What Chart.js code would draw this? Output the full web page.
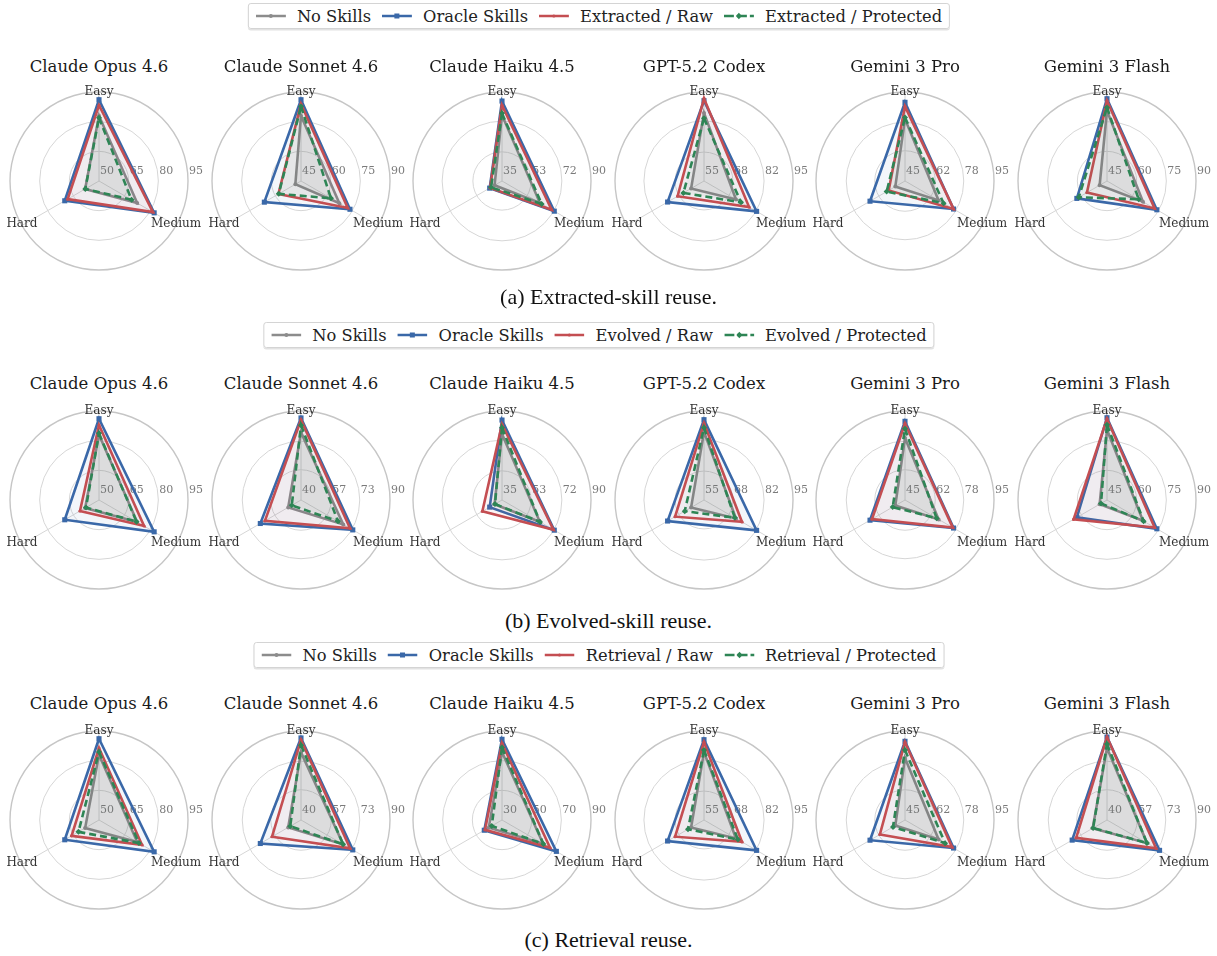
<!DOCTYPE html>
<html>
<head>
<meta charset="utf-8">
<script src="https://cdn.jsdelivr.net/npm/chart.js@4.4.1/dist/chart.umd.min.js"></script>
<style>
  body { margin: 0; background: #fff; }
  #page { position: relative; width: 1217px; height: 956px; overflow: hidden; font-family: "DejaVu Serif", serif; }
  .panel { position: absolute; }
  .title { position: absolute; width: 200px; text-align: center; font-size: 16.5px; line-height: 20px; color: #1a1a1a; white-space: nowrap; }
  .caption { position: absolute; left: 0; width: 1217px; text-align: center; font-family: "Liberation Serif", serif; font-size: 22px; line-height: 26px; color: #111; }
  .legend { position: absolute; left: 599px; transform: translateX(-50%); display: flex; align-items: center; height: 24px; padding: 0 7px; border: 1px solid #d4d4d4; border-radius: 3px; box-shadow: 0 1.5px 0 #e2e2e2; font-size: 16.3px; color: #222; white-space: nowrap; }
  .legend .item { display: flex; align-items: center; margin-right: 11px; }
  .legend .item:last-child { margin-right: 0; }
  .legend svg { margin-right: 11px; }
</style>
</head>
<body>
<div id="page"></div>
<script>
const categories = ["Easy", "Medium", "Hard"];
const models = ["Claude Opus 4.6", "Claude Sonnet 4.6", "Claude Haiku 4.5", "GPT-5.2 Codex", "Gemini 3 Pro", "Gemini 3 Flash"];
const captions = ["(a) Extracted-skill reuse.", "(b) Evolved-skill reuse.", "(c) Retrieval reuse."];
const legendLabels = [
    ["No Skills", "Oracle Skills", "Extracted / Raw", "Extracted / Protected"],
    ["No Skills", "Oracle Skills", "Evolved / Raw", "Evolved / Protected"],
    ["No Skills", "Oracle Skills", "Retrieval / Raw", "Retrieval / Protected"],
];

// [Easy, Medium, Hard] per model
const noSkills = [[83.0, 72.3, 58.1], [78.0, 67.4, 48.3], [75.8, 62.0, 40.3], [85.6, 71.6, 61.7], [79.8, 66.8, 51.3], [80.5, 66.0, 49.3]];
const oracleSkills = [[91.1, 82.2, 70.0], [86.1, 73.6, 66.4], [84.4, 72.3, 43.8], [91.1, 82.3, 73.9], [89.2, 76.5, 67.7], [86.6, 74.1, 62.6]];

const extractedRaw = [[88.3, 81.5, 68.3], [83.9, 72.3, 58.2], [81.8, 70.4, 43.5], [92.1, 78.4, 68.7], [86.9, 76.5, 55.6], [85.6, 72.8, 56.7]];
const extractedProtected = [[82.0, 69.0, 58.0], [82.7, 62.5, 58.0], [76.8, 63.3, 42.8], [83.2, 74.2, 65.7], [80.7, 70.0, 56.9], [82.2, 63.5, 61.5]];
const evolvedRaw = [[87.9, 76.3, 61.1], [85.0, 71.8, 63.4], [81.8, 71.7, 49.0], [89.5, 74.7, 70.0], [88.0, 76.0, 66.4], [86.1, 72.8, 64.5]];
const evolvedProtected = [[83.7, 71.9, 57.6], [82.0, 64.0, 46.0], [79.7, 62.1, 40.0], [87.5, 71.0, 65.0], [85.0, 65.5, 53.0], [83.1, 66.4, 48.5]];
const retrievalRaw = [[86.4, 75.1, 66.0], [85.0, 71.8, 58.8], [81.7, 67.4, 43.2], [90.0, 74.7, 70.0], [88.7, 75.5, 61.3], [86.6, 71.8, 60.0]];
const retrievalProtected = [[84.4, 73.3, 62.0], [82.0, 67.3, 47.0], [78.8, 62.2, 38.0], [86.5, 72.6, 63.3], [84.3, 71.0, 52.8], [82.7, 65.9, 49.0]];

const rawRows = [extractedRaw, evolvedRaw, retrievalRaw];
const protectedRows = [extractedProtected, evolvedProtected, retrievalProtected];

// radial tick labels per row, per model (first = centre, last = outer ring)
const radialTicks = [
    [[50, 65, 80, 95], [45, 60, 75, 90], [35, 53, 72, 90], [55, 68, 82, 95], [45, 62, 78, 95], [45, 60, 75, 90]],
    [[50, 65, 80, 95], [40, 57, 73, 90], [35, 53, 72, 90], [55, 68, 82, 95], [45, 62, 78, 95], [45, 60, 75, 90]],
    [[50, 65, 80, 95], [40, 57, 73, 90], [30, 50, 70, 90], [55, 68, 82, 95], [45, 62, 78, 95], [40, 57, 73, 90]],
];

const colors = ["#8c8c8c", "#3a68a8", "#c44e52", "#2e8555"];
const centersX = [99, 301, 502, 704, 905, 1107];
const centersY = [181, 500, 820];
const legendTop = [3, 322, 642];
const titleY = [67, 384, 704];
const captionY = [297, 621, 940];

const page = document.getElementById("page");

function fade(hex, a) {
    const n = parseInt(hex.slice(1), 16);
    return `rgba(${n >> 16},${(n >> 8) & 255},${n & 255},${a})`;
}

const panelLabels = {
    id: "panelLabels",
    beforeDatasetsDraw(chart) {
        const scale = chart.scales.r;
        const ctx = chart.ctx;
        ctx.save();
        ctx.font = "11px 'DejaVu Serif'";
        ctx.fillStyle = "#7a7a7a";
        ctx.textAlign = "center";
        ctx.textBaseline = "middle";
        scale.ticks.forEach((t) => {
            const d = scale.getDistanceFromCenterForValue(t.value);
            ctx.fillText(String(t.value), scale.xCenter + d + 8, scale.yCenter - 10);
        });
        ctx.restore();
    },
    afterDatasetsDraw(chart) {
        const scale = chart.scales.r;
        const ctx = chart.ctx;
        ctx.save();
        ctx.font = "12px 'DejaVu Serif'";
        ctx.fillStyle = "#333";
        ctx.textAlign = "center";
        ctx.textBaseline = "middle";
        chart.data.labels.forEach((label, i) => {
            const p = scale.getPointPosition(i, scale.drawingArea);
            ctx.fillText(label, p.x, i === 0 ? p.y : p.y - 2);
        });
        ctx.restore();
    },
};

function legendSample(idx) {
    const c = colors[idx];
    let line = `<line x1="0" y1="6" x2="30" y2="6" stroke="${c}" stroke-width="2.5"${idx === 3 ? ' stroke-dasharray="10 3"' : ""}/>`;
    let marker = "";
    if (idx === 0) marker = `<circle cx="15" cy="6" r="2" fill="${c}"/>`;
    if (idx === 1) marker = `<rect x="12.5" y="3.5" width="5" height="5" fill="${c}"/>`;
    if (idx === 2) marker = `<circle cx="15" cy="6" r="1.6" fill="${c}"/>`;
    if (idx === 3) marker = `<path d="M15 2.8 L18 6 L15 9.2 L12 6 Z" fill="${c}"/>`;
    return `<svg width="30" height="12">${line}${marker}</svg>`;
}

function makeLegend(row) {
    const div = document.createElement("div");
    div.className = "legend";
    div.style.top = legendTop[row] + "px";
    div.innerHTML = legendLabels[row]
        .map((name, i) => `<span class="item">${legendSample(i)}${name}</span>`)
        .join("");
    page.appendChild(div);
}

function makePanel(row, col) {
    const cx = centersX[col];
    const cy = centersY[row];

    const title = document.createElement("div");
    title.className = "title";
    title.textContent = models[col];
    title.style.left = cx - 100 + "px";
    title.style.top = titleY[row] - 10 + "px";
    page.appendChild(title);

    const canvas = document.createElement("canvas");
    canvas.className = "panel";
    canvas.width = 230;
    canvas.height = 210;
    canvas.style.left = cx - 115 + "px";
    canvas.style.top = cy - 105 + "px";
    page.appendChild(canvas);

    const ticks = radialTicks[row][col];
    const series = [noSkills[col], oracleSkills[col], rawRows[row][col], protectedRows[row][col]];
    const styles = [
        { pointStyle: "circle", pointRadius: 2 },
        { pointStyle: "rect", pointRadius: 3.6 },
        { pointStyle: "circle", pointRadius: 1.6 },
        { pointStyle: "rectRot", pointRadius: 3 },
    ];

    new Chart(canvas.getContext("2d"), {
        type: "radar",
        data: {
            labels: categories,
            datasets: series.map((values, i) => ({
                label: legendLabels[row][i],
                data: values,
                borderColor: colors[i],
                backgroundColor: fade(colors[i], i === 0 ? 0.1 : 0.06),
                borderWidth: 2.6,
                borderDash: i === 3 ? [7, 4] : [],
                fill: true,
                pointStyle: styles[i].pointStyle,
                pointRadius: styles[i].pointRadius,
                pointBackgroundColor: colors[i],
                pointBorderWidth: 0,
                order: 3 - i,
            })),
        },
        options: {
            responsive: false,
            animation: false,
            events: [],
            layout: { padding: { left: 26, right: 26, top: 16, bottom: 16 } },
            plugins: { legend: { display: false }, tooltip: { enabled: false } },
            scales: {
                r: {
                    min: ticks[0],
                    max: ticks[ticks.length - 1],
                    ticks: { display: false },
                    pointLabels: { display: false },
                    grid: {
                        circular: true,
                        color: (ctx) => (ctx.index === ticks.length - 1 ? "#c6c6c6" : "#d6d6d6"),
                        lineWidth: (ctx) => (ctx.index === ticks.length - 1 ? 1.4 : 1),
                    },
                    angleLines: { color: "#d6d6d6", lineWidth: 1 },
                    afterBuildTicks: (scale) => {
                        scale.ticks = ticks.map((v) => ({ value: v }));
                    },
                },
            },
        },
        plugins: [panelLabels],
    });
}

for (let row = 0; row < 3; row++) {
    makeLegend(row);
    for (let col = 0; col < models.length; col++) {
        makePanel(row, col);
    }
    const cap = document.createElement("div");
    cap.className = "caption";
    cap.textContent = captions[row];
    cap.style.top = captionY[row] - 13 + "px";
    page.appendChild(cap);
}
</script>
</body>
</html>
